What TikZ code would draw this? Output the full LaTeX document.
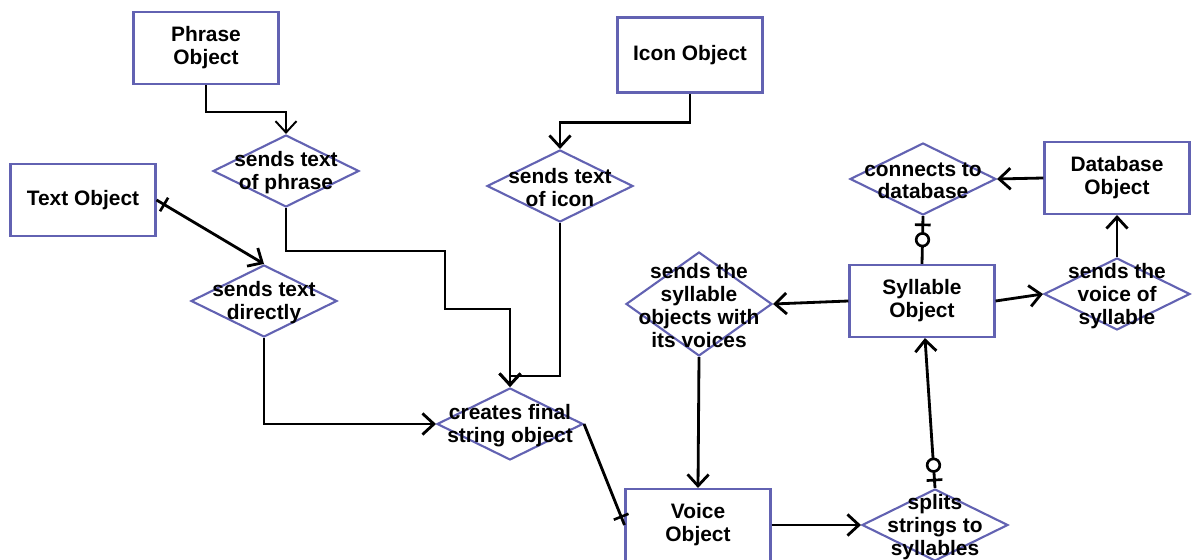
\documentclass[tikz,border=0pt]{standalone}
\usepackage{fontspec}
\setmainfont{Liberation Sans}
\usetikzlibrary{shapes.geometric,arrows.meta,decorations.markings}

\definecolor{objblue}{RGB}{98,98,178}

\tikzset{
    entity/.style={draw=objblue, line width=1.2pt, fill=white, align=center,
        minimum width=2.9cm, minimum height=1.44cm,
        font=\bfseries\fontsize{11.9}{13}\selectfont},
    relation/.style={diamond, draw=objblue, line width=1.2pt, fill=white,
        inner sep=0pt, minimum width=2.92cm, minimum height=1.44cm},
    reltext/.style={align=center, inner sep=0pt, yshift=-1pt,
        font=\bfseries\fontsize{11.9}{13}\selectfont},
    link/.style={->, line width=1.6pt},
    bar at/.style={postaction={decorate, decoration={markings,
        mark=at position #1 with {\draw[-, line width=1.5pt] (0,-4.5pt) -- (0,4.5pt);}}}},
    ring at/.style={postaction={decorate, decoration={markings,
        mark=at position #1 with {\draw[-, line width=1.5pt, fill=white] (0,0) circle (3.6pt);}}}},
}

\begin{document}
\begin{tikzpicture}[x=0.02cm, y=-0.02cm, >={Straight Barb[length=6.5pt,width=12pt]}]
    \useasboundingbox (0,0) rectangle (1197,560);

    % objects
    \node[entity] (phrase) at (206,48) {Phrase\\Object};
    \node[entity, minimum height=1.5cm] (icon) at (690,55) {Icon Object};
    \node[entity] (text) at (83,200) {Text Object};
    \node[entity] (db) at (1117,178) {Database\\Object};
    \node[entity] (syl) at (922,301) {Syllable\\Object};
    \node[entity] (voice) at (698,525) {Voice\\Object};

    % relations
    \node[relation, label={[reltext]center:{sends text\\of phrase}}] (sphrase) at (286,171) {};
    \node[relation, label={[reltext]center:{sends text\\of icon}}] (sicon) at (560,186) {};
    \node[relation, label={[reltext]center:{sends text\\directly}}] (sdirect) at (264,301) {};
    \node[relation, label={[reltext]center:{creates final\\string object}}] (final) at (510,424) {};
    \node[relation, minimum height=2.08cm,
          label={[reltext]center:{sends the\\syllable\\objects with\\its voices}}] (ssyl) at (699,304) {};
    \node[relation, label={[reltext]center:{connects to\\database}}] (conn) at (923,179) {};
    \node[relation, label={[reltext]center:{sends the\\voice of\\syllable}}] (svoice) at (1117,294) {};
    \node[relation, label={[reltext]center:{splits\\strings to\\syllables}}] (split) at (935,525) {};

    % connectors
    \draw[link, line width=1.1pt] (phrase.south) -- ++(0,27) -| (sphrase.north);
    \draw[link] (icon.south) -- ++(0,29) -| (sicon.north);
    \draw[link, bar at=5pt] (text.east) -- (sdirect.north);
    \draw[link] (sphrase.south) -- ++(0,43) -| ++(159,58) -| (final.north);
    \draw[link] (sicon.south) -- ++(0,153) -| (final.north);
    \draw[link] (sdirect.south) |- (final.west);
    \draw[line width=1.6pt, bar at=-5pt] (final.east) -- (voice.west);
    \draw[link] (ssyl.south) -- (voice.north);
    \draw[link] (voice.east) -- (split.west);
    \draw[link, bar at=4.5pt, ring at=13pt] (split.north) -- ([xshift=1.7pt]syl.south);
    \draw[link] (syl.west) -- (ssyl.east);
    \draw[link] (syl.east) -- (svoice.west);
    \draw[link] (svoice.north) -- (db.south);
    \draw[link] (db.west) -- (conn.east);
    \draw[line width=1.6pt, bar at=5pt, ring at=13.5pt] (conn.south) -- (syl.north);
\end{tikzpicture}
\end{document}
